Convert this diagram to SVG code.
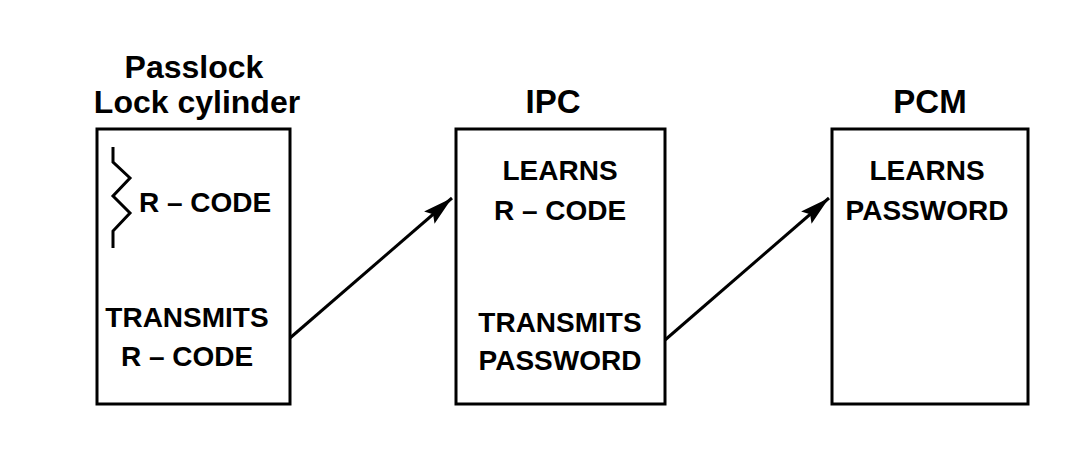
<svg xmlns="http://www.w3.org/2000/svg" width="1088" height="476" viewBox="0 0 1088 476">
<style>
.box{fill:#fff;stroke:#000;stroke-width:3}
.t{font-family:"Liberation Sans",Arial,sans-serif;font-weight:bold;fill:#000;text-anchor:middle}
.h{font-size:33px}
.h2{font-size:32px}
.b{font-size:28px}
.c{fill:none;stroke:#000;stroke-width:3}
</style>
<defs>
<marker id="ah" viewBox="0 0 30 16" refX="30" refY="8" markerWidth="30" markerHeight="16" markerUnits="userSpaceOnUse" orient="auto">
<path d="M0,0 L30,8 L0,16 L5,8 Z" fill="#000"/>
</marker>
</defs>
<rect width="1088" height="476" fill="#fff"/>
<g id="lock">
<text class="t h2" x="194" y="78">Passlock</text>
<text class="t h2" x="197" y="113">Lock cylinder</text>
<rect class="box" x="97" y="129" width="193" height="275"/>
<path class="c" d="M113,147 L113,162 L130,178 L113,196 L130,213 L113,231 L113,248" stroke-width="2.5"/>
<text class="t b" x="205" y="212">R – CODE</text>
<text class="t b" x="187" y="327">TRANSMITS</text>
<text class="t b" x="187" y="366">R – CODE</text>
</g>
<g id="ipc">
<text class="t h" x="553" y="113">IPC</text>
<rect class="box" x="456" y="129" width="209" height="275"/>
<text class="t b" x="560" y="180">LEARNS</text>
<text class="t b" x="560" y="220">R – CODE</text>
<text class="t b" x="560" y="332">TRANSMITS</text>
<text class="t b" x="560" y="370">PASSWORD</text>
</g>
<g id="pcm">
<text class="t h" x="930" y="113">PCM</text>
<rect class="box" x="832" y="129" width="196" height="275"/>
<text class="t b" x="927" y="180">LEARNS</text>
<text class="t b" x="927" y="220">PASSWORD</text>
</g>
<g id="connectors">
<line class="c" x1="290" y1="338" x2="452" y2="198" marker-end="url(#ah)"/>
<line class="c" x1="665" y1="340" x2="829" y2="198" marker-end="url(#ah)"/>
</g>
</svg>
